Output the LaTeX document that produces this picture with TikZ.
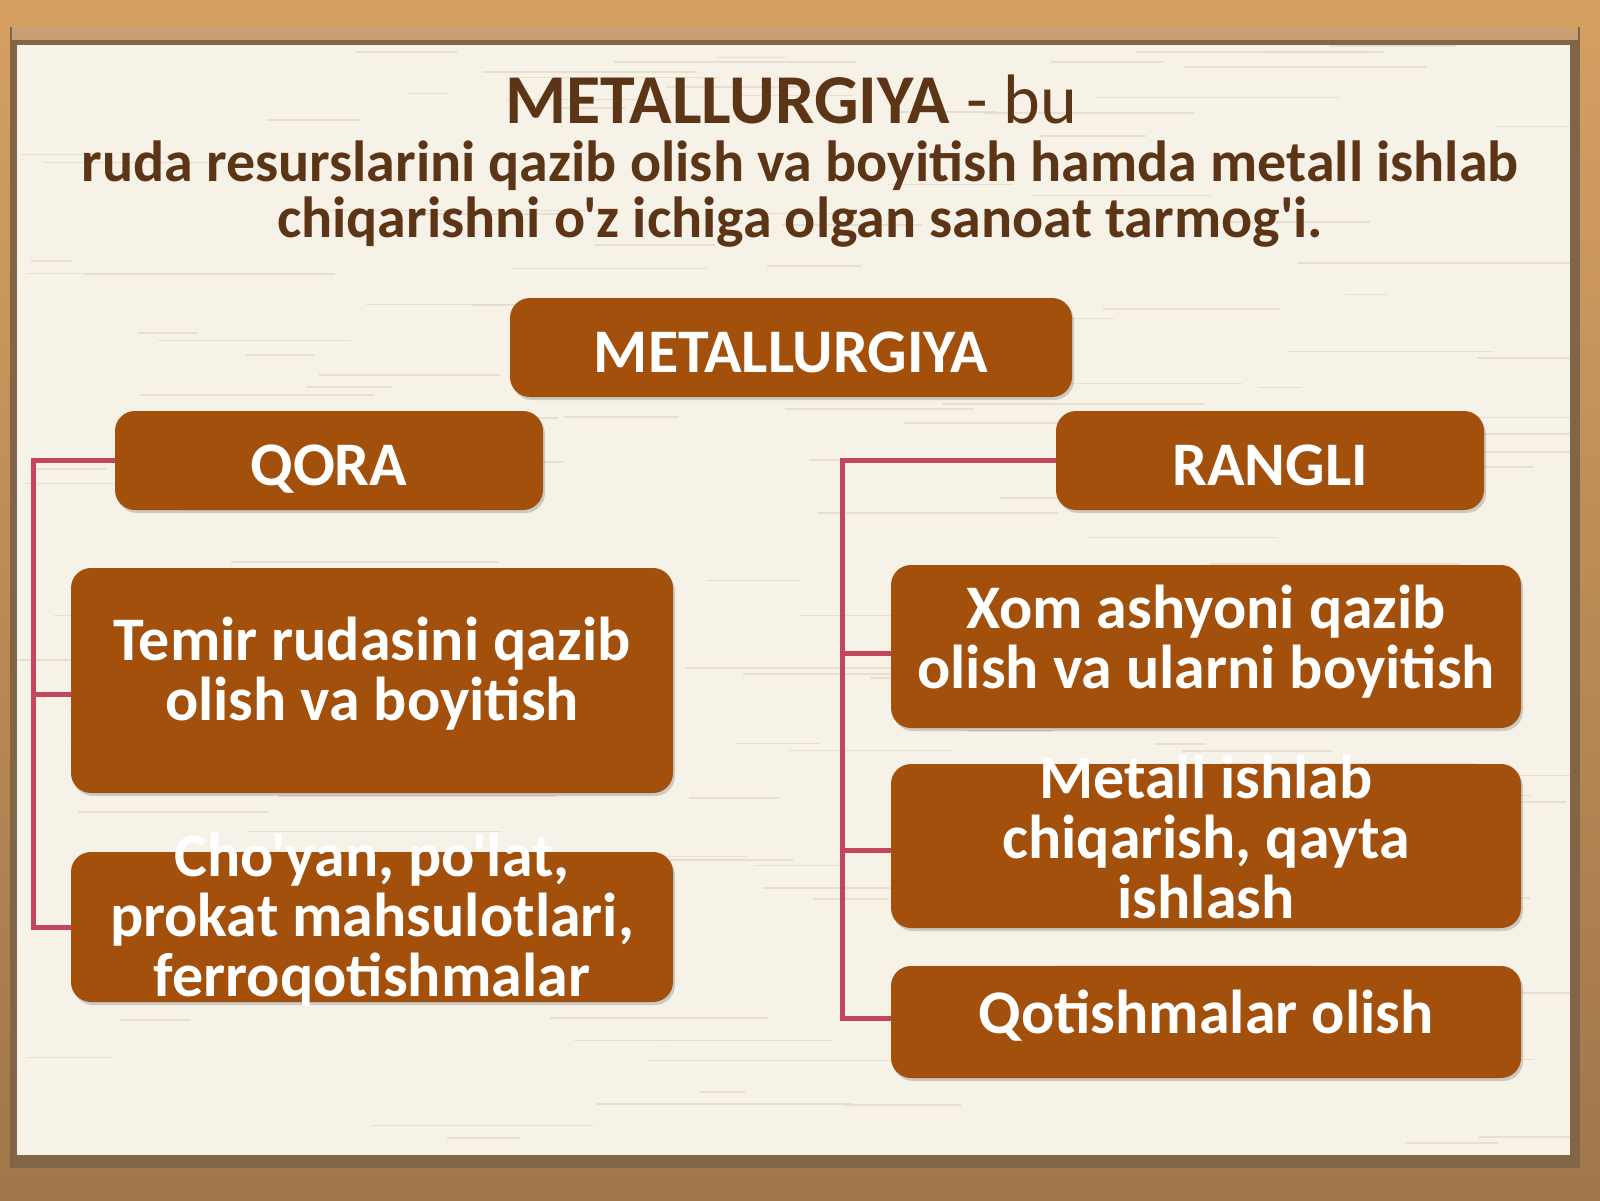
\documentclass[tikz,border=0pt]{standalone}
\usepackage{fontspec}
\setmainfont{Carlito}[Ligatures=TeXOff]
\usetikzlibrary{shadows}
\definecolor{boxfill}{RGB}{162,80,12}
\definecolor{titlec}{RGB}{92,52,22}
\definecolor{connc}{RGB}{194,70,92}
\definecolor{panelc}{RGB}{247,242,232}
\definecolor{grainc}{RGB}{226,216,200}
\definecolor{framec}{RGB}{130,100,70}
\definecolor{bevelc}{RGB}{200,160,115}
\tikzset{
  box/.style={fill=boxfill, rounded corners=20pt, inner sep=0pt,
    drop shadow={opacity=0.35, shadow xshift=2pt, shadow yshift=-3pt}},
  boxtxt/.style={text=white, align=center, inner sep=0pt,
    font=\fontsize{62}{60}\selectfont\bfseries},
  conn/.style={draw=connc, line width=5pt},
  grain/.style={draw=grainc, line width=1.6pt, opacity=0.7},
}
\begin{document}
\begin{tikzpicture}[x=1pt,y=-1pt]
\useasboundingbox (0,0) rectangle (1600,1200);
% outer background
\shade[top color={rgb,255:red,214;green,160;blue,98}, bottom color={rgb,255:red,160;green,118;blue,74}] (0,0) rectangle (1600,1200);
\fill[framec] (10,27) rectangle (1580,1168);
\fill[bevelc] (12,27) rectangle (1578,40);
\fill[panelc] (17,45) rectangle (1570,1155);
\begin{scope}
\clip (17,45) rectangle (1570,1155);
\pgfmathsetseed{11}
\foreach \i in {1,...,160}{
  \pgfmathsetmacro\yy{45+rnd*1110}
  \pgfmathsetmacro\xx{17+rnd*1500}
  \pgfmathsetmacro\ll{40+rnd*260}
  \draw[grain] (\xx,\yy) -- ++(\ll,0);
}
\end{scope}
% title
\node[text=titlec, anchor=base, inner sep=0pt, font=\fontsize{70}{70}\selectfont] (title) at (791,123) {\bfseries METALLURGIYA\mdseries{} - bu};
\node[text=titlec, anchor=base, inner sep=0pt, align=center, font=\fontsize{58}{56}\selectfont\bfseries] (def) at (800,237) {ruda resurslarini qazib olish va boyitish hamda metall ishlab\\chiqarishni o'z ichiga olgan sanoat tarmog'i.};
% boxes
\node[box, minimum width=562pt, minimum height=99pt] (met) at (791,347.5) {};
\node[box, minimum width=428pt, minimum height=99pt] (qora) at (329,460.5) {};
\node[box, minimum width=428pt, minimum height=99pt] (rangli) at (1270,460.5) {};
\node[box, minimum width=602pt, minimum height=225pt] (temir) at (372,680.5) {};
\node[box, minimum width=602pt, minimum height=150pt] (choyan) at (372,927) {};
\node[box, minimum width=630pt, minimum height=163pt] (xom) at (1206,646.5) {};
\node[box, minimum width=630pt, minimum height=164pt] (metall) at (1206,846) {};
\node[box, minimum width=630pt, minimum height=112pt] (qot) at (1206,1022) {};
% texts
\node[boxtxt] at ([yshift=-5pt]met) {METALLURGIYA};
\node[boxtxt] at ([yshift=-9pt]qora) {QORA};
\node[boxtxt] at ([yshift=-5pt]rangli) {RANGLI};
\node[boxtxt] at ([yshift=7pt]temir) {Temir rudasini qazib\\olish va boyitish};
\node[boxtxt] at ([yshift=7pt]choyan) {Cho'yan, po'lat,\\prokat mahsulotlari,\\ferroqotishmalar};
\node[boxtxt] at ([yshift=5pt]xom) {Xom ashyoni qazib\\olish va ularni boyitish};
\node[boxtxt] at ([yshift=9pt]metall) {Metall ishlab\\chiqarish, qayta\\ishlash};
\node[boxtxt] at ([yshift=6pt]qot) {Qotishmalar olish};
% connectors left
\draw[conn] (qora.west) -- ++(-81,0) |- (choyan.west);
\draw[conn] ([yshift=-13.5pt]temir.west) -- ++(-38,0);
% connectors right
\draw[conn] (rangli.west) -- ++(-213,0) |- ([yshift=4pt]qot.west);
\draw[conn] ([yshift=-6.5pt]xom.west) -- ++(-48,0);
\draw[conn] ([yshift=-4pt]metall.west) -- ++(-48,0);
\end{tikzpicture}
\end{document}
